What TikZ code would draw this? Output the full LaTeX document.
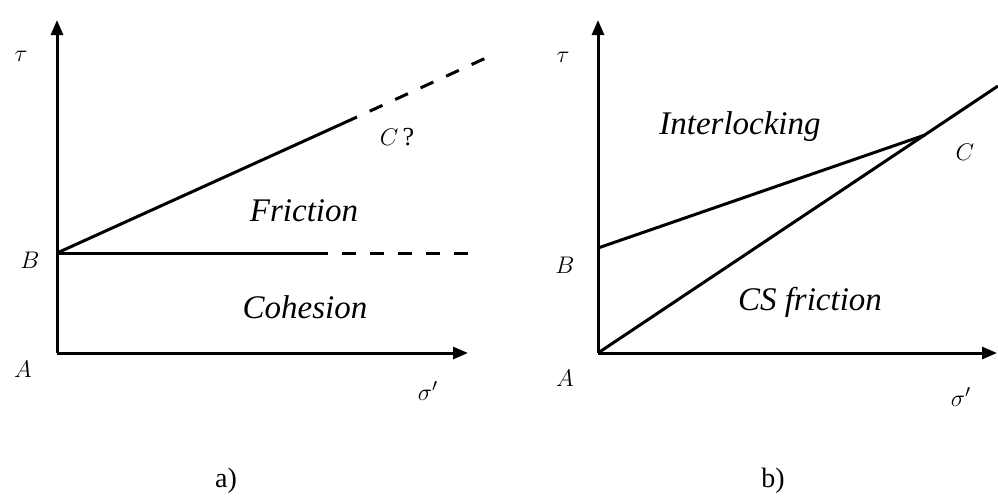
\documentclass[tikz,border=0pt]{standalone}
\usepackage{fontspec}
\setmainfont{Liberation Serif}
\usetikzlibrary{arrows.meta}
\begin{document}
\begin{tikzpicture}[x=0.5pt,y=-0.5pt,
  axisline/.style={line width=1.5pt,-{Triangle[length=7.5pt,width=6pt]}},
  curve/.style={line width=1.5pt},
  dashcurve/.style={line width=1.5pt,dash pattern=on 7pt off 7pt,dash phase=7pt},
  region/.style={font=\fontsize{16.5}{18}\selectfont\itshape,inner sep=0pt},
  pointlab/.style={font=\fontsize{13}{15}\selectfont,inner sep=0pt},
  caption/.style={font=\fontsize{14}{16}\selectfont,inner sep=0pt}]
\useasboundingbox (0,0) rectangle (998,495);
% ---------- panel a ----------
\coordinate (aA) at (57,353);
\coordinate (aT) at (57,20);
\coordinate (aS) at (468,353);
\coordinate (aB) at (57,253);
\coordinate (aH1) at (328,253);
\coordinate (aH2) at (473,253);
\coordinate (aD1) at (357,117);
\coordinate (aD2) at (488,57);
\draw[axisline] (aA) -- (aT);
\draw[axisline] (aA) -- (aS);
\draw[curve] (aB) -- (aH1);
\draw[dashcurve] (aH1) -- (aH2);
\draw[curve] (aB) -- (aD1);
\draw[dashcurve] (aD1) -- (aD2);
\node[pointlab] (atau) at (21,56) {$\tau$};
\node[pointlab] (aBl) at (30,260) {$B$};
\node[pointlab] (aAl) at (23,369) {$A$};
\node[pointlab] (aC) at (397,137) {$C$\,?};
\node[pointlab] (asig) at (428,391) {$\sigma'$};
\node[region] (fric) at (304,211) {Friction};
\node[region] (coh) at (305,307) {Cohesion};
\node[caption] (capa) at (226,481) {a)};
% ---------- panel b ----------
\coordinate (bA) at (598,353);
\coordinate (bT) at (598,20);
\coordinate (bS) at (997,353);
\coordinate (bB) at (598,248);
\coordinate (bX) at (925,135);
\coordinate (bE) at (998,86);
\draw[axisline] (bA) -- (bT);
\draw[axisline] (bA) -- (bS);
\draw[curve] (bB) -- (bX);
\draw[curve] (bA) -- (bE);
\node[pointlab] (btau) at (563,57) {$\tau$};
\node[pointlab] (bBl) at (565,265) {$B$};
\node[pointlab] (bAl) at (565,378) {$A$};
\node[pointlab] (bC) at (965,152) {$C$};
\node[pointlab] (bsig) at (961,397) {$\sigma'$};
\node[region] (inter) at (740,127) {Interlocking};
\node[region] (csf) at (810,302) {CS friction};
\node[caption] (capb) at (773,481) {b)};
\end{tikzpicture}
\end{document}
